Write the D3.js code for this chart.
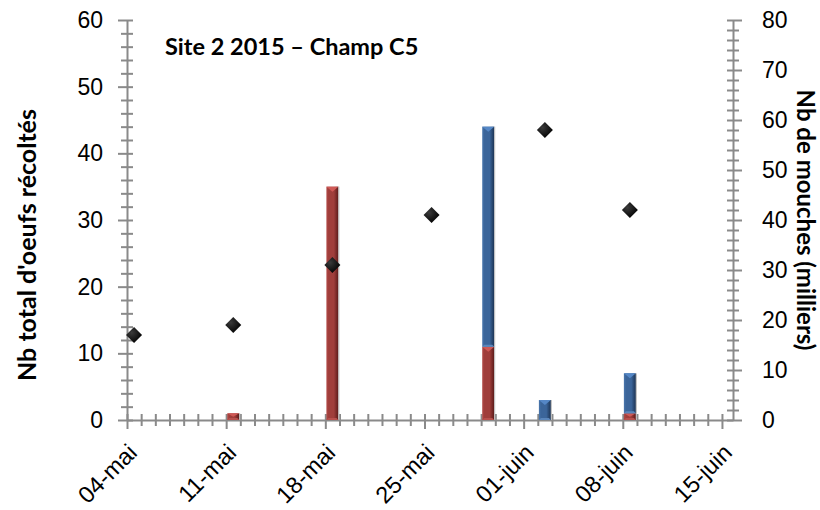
<!DOCTYPE html>
<html><head><meta charset="utf-8">
<script src="https://cdn.jsdelivr.net/npm/d3@7"></script>
<style>
html,body{margin:0;padding:0;background:#fff;}
svg{display:block;font-family:Lato,"Open Sans",sans-serif;}
</style></head>
<body>
<svg id="c" width="820" height="510"></svg>
<script>
// ---- data ----
const flyDates = ["2015-05-04","2015-05-11","2015-05-18","2015-05-25","2015-06-02","2015-06-08"];
const flies = [17, 19, 31, 41, 58, 42];            // milliers (right axis)
const eggDates = ["2015-05-11","2015-05-18","2015-05-29","2015-06-02","2015-06-08"];
const eggsRed = [1, 35, 11, 0, 1];                  // left axis
const eggsBlue = [0, 0, 33, 3, 6];                  // left axis, stacked on red
const xTickLabels = ["04-mai","11-mai","18-mai","25-mai","01-juin","08-juin","15-juin"];
const leftTicks = [0,10,20,30,40,50,60];
const rightTicks = [0,10,20,30,40,50,60,70,80];
const title = "Site 2 2015 – Champ C5";
const leftTitle = "Nb total d'oeufs récoltés";
const rightTitle = "Nb de mouches (milliers)";

// ---- layout ----
const svg = d3.select("#c");
const L = 127, R = 733, T = 20, B = 420;
const DAY = 86400000;
const parse = s => new Date(s + "T00:00:00Z");
const x0 = parse("2015-05-04");
const xEnd = new Date(parse("2015-06-15").getTime() + 0.78 * DAY);
const x = d3.scaleUtc().domain([x0, xEnd]).range([L, R]);
const yL = d3.scaleLinear().domain([0, 60]).range([B, T]);
const yR = d3.scaleLinear().domain([0, 80]).range([B, T]);
const AX = "#8a8a8a";
const halfDay = d => new Date(parse(d).getTime() + DAY / 2);

// gradients
const defs = svg.append("defs");
function grad(id, light, base, dark) {
  const g = defs.append("linearGradient").attr("id", id).attr("x1", 0).attr("x2", 1).attr("y1", 0).attr("y2", 0);
  g.append("stop").attr("offset", 0).attr("stop-color", light);
  g.append("stop").attr("offset", 0.18).attr("stop-color", base);
  g.append("stop").attr("offset", 0.62).attr("stop-color", base);
  g.append("stop").attr("offset", 1).attr("stop-color", dark);
}
grad("gRed", "#b24a47", "#a03e3b", "#5a1a19");
grad("gBlue", "#4a77ad", "#3b659a", "#1c3353");
const gd = defs.append("radialGradient").attr("id", "gDia").attr("cx", 0.35).attr("cy", 0.35).attr("r", 0.7);
gd.append("stop").attr("offset", 0).attr("stop-color", "#3a3a3a");
gd.append("stop").attr("offset", 1).attr("stop-color", "#000");

// ---- axes ----
function styleAxis(g) {
  g.select(".domain").attr("stroke", AX).attr("stroke-width", 2);
  g.selectAll(".tick line").attr("stroke", AX).attr("stroke-width", 2);
  g.selectAll(".tick text").attr("fill", "#000").attr("font-size", 23);
}
// left minors
const leftMinor = d3.range(0, 61, 2).filter(v => v % 10 !== 0);
svg.append("g").attr("transform", `translate(${L},0)`)
  .call(d3.axisLeft(yL).tickValues(leftMinor).tickSize(6).tickFormat(""))
  .call(styleAxis)
  .call(g => g.selectAll(".tick line").attr("x1", 6).attr("x2", -6))
  .call(g => g.select(".domain").remove());
svg.append("g").attr("transform", `translate(${L},0)`)
  .call(d3.axisLeft(yL).tickValues(leftTicks).tickSize(9).tickSizeOuter(0).tickPadding(15))
  .call(styleAxis)
  .call(g => g.selectAll(".tick line").attr("x1", 6));
// right minors
const rightMinor = d3.range(0, 81, 2).filter(v => v % 10 !== 0);
svg.append("g").attr("transform", `translate(${R},0)`)
  .call(d3.axisRight(yR).tickValues(rightMinor).tickSize(6).tickFormat(""))
  .call(styleAxis)
  .call(g => g.selectAll(".tick line").attr("x1", -6).attr("x2", 6))
  .call(g => g.select(".domain").remove());
svg.append("g").attr("transform", `translate(${R},0)`)
  .call(d3.axisRight(yR).tickValues(rightTicks).tickSize(9).tickSizeOuter(0).tickPadding(20))
  .call(styleAxis)
  .call(g => g.selectAll(".tick line").attr("x1", -6));
// x axis
const xMajor = d3.range(0, 7).map(i => new Date(x0.getTime() + i * 7 * DAY));
const xMinor = d3.range(0, 43).filter(i => i % 7 !== 0).map(i => new Date(x0.getTime() + i * DAY));
svg.append("g").attr("transform", `translate(0,${B})`)
  .call(d3.axisBottom(x).tickValues(xMinor).tickSize(6).tickFormat(""))
  .call(styleAxis)
  .call(g => g.selectAll(".tick line").attr("y1", -6).attr("y2", 6))
  .call(g => g.select(".domain").remove());
const xa = svg.append("g").attr("transform", `translate(0,${B})`)
  .call(d3.axisBottom(x).tickValues(xMajor).tickSize(9).tickSizeOuter(0).tickFormat((d, i) => xTickLabels[i]))
  .call(styleAxis)
  .call(g => g.selectAll(".tick line").attr("y1", -6));
xa.selectAll(".tick text")
  .attr("text-anchor", "end").attr("dy", 0).attr("y", 0).attr("font-size", 23.5)
  .attr("transform", "translate(11,34) rotate(-45)");

// ---- bars (stacked: red bottom, blue on top) ----
const BW = 12;
const barData = [];
eggDates.forEach((d, i) => {
  const cx = x(halfDay(d));
  if (eggsRed[i] > 0) barData.push({cx, y0: 0, y1: eggsRed[i], c: "Red"});
  if (eggsBlue[i] > 0) barData.push({cx, y0: eggsRed[i], y1: eggsRed[i] + eggsBlue[i], c: "Blue"});
});
const topCol = {Red: "#cf5956", Blue: "#5587c6"};
const botCol = {Red: "#b8504d", Blue: "#5a86bb"};
const bars = svg.append("g");
barData.forEach(b => {
  const xl = b.cx - BW / 2, yt = yL(b.y1), yb = yL(b.y0);
  const h = yb - yt;
  bars.append("rect").attr("x", xl).attr("y", yt).attr("width", BW).attr("height", h)
    .attr("fill", `url(#g${b.c})`);
  bars.append("line").attr("x1", xl + BW + 0.5).attr("x2", xl + BW + 0.5).attr("y1", yt).attr("y2", yb)
    .attr("stroke", "#bdbdbd").attr("stroke-width", 1);
  const tb = Math.min(5, h / 2);
  bars.append("path").attr("d", `M${xl},${yt}L${xl + BW},${yt}L${b.cx},${yt + tb}Z`).attr("fill", topCol[b.c]);
  const bb = Math.min(2, h / 3);
  bars.append("path").attr("d", `M${xl},${yb}L${xl + BW},${yb}L${xl + BW - bb},${yb - bb}L${xl + bb},${yb - bb}Z`).attr("fill", botCol[b.c]);
});

// ---- diamonds (right axis) ----
const DS = 8;
svg.append("g").selectAll("path").data(flies).join("path")
  .attr("transform", (v, i) => `translate(${x(halfDay(flyDates[i]))},${yR(v)})`)
  .attr("d", `M0,${-DS}L${DS},0L0,${DS}L${-DS},0Z`)
  .attr("fill", "url(#gDia)");

// ---- titles ----
svg.append("text").attr("x", 165).attr("y", 55).attr("font-size", 23.5).attr("font-weight", "bold").text(title);
svg.append("text").attr("transform", `translate(36,245) rotate(-90)`).attr("text-anchor", "middle")
  .attr("font-size", 25).attr("font-weight", "bold").text(leftTitle);
svg.append("text").attr("transform", `translate(797,220) rotate(90)`).attr("text-anchor", "middle")
  .attr("font-size", 24).attr("font-weight", "bold").text(rightTitle);
</script>
</body></html>
